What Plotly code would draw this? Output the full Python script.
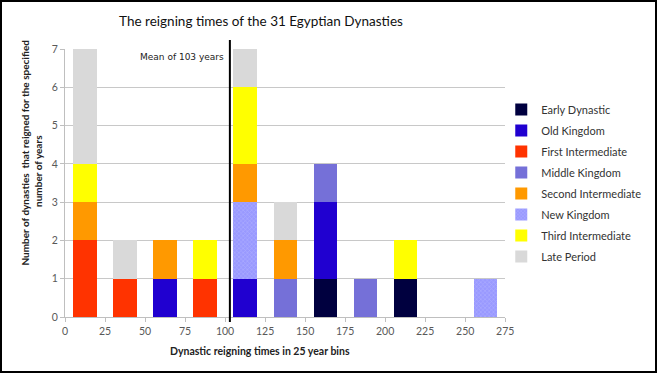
import plotly.graph_objects as go

bins = [12.5, 37.5, 62.5, 87.5, 112.5, 137.5, 162.5, 187.5, 212.5, 237.5, 262.5]

# stacking order (bottom to top)
series = [
    ("Early Dynastic",      [0, 0, 0, 0, 0, 0, 1, 0, 1, 0, 0], "#00003F", 1),
    ("Old Kingdom",         [0, 0, 1, 0, 1, 0, 2, 0, 0, 0, 0], "#2000D0", 2),
    ("First Intermediate",  [2, 1, 0, 1, 0, 0, 0, 0, 0, 0, 0], "#FF3300", 3),
    ("Middle Kingdom",      [0, 0, 0, 0, 0, 1, 1, 1, 0, 0, 0], "#7570D8", 4),
    ("New Kingdom",         [0, 0, 0, 0, 2, 0, 0, 0, 0, 0, 1], "#9999FF", 6),
    ("Second Intermediate", [1, 0, 1, 0, 1, 1, 0, 0, 0, 0, 0], "#FF9900", 5),
    ("Third Intermediate",  [1, 0, 0, 1, 2, 0, 0, 0, 1, 0, 0], "#FFFF00", 7),
    ("Late Period",         [3, 1, 0, 0, 1, 1, 0, 0, 0, 0, 0], "#D9D9D9", 8),
]

mean_years = 103
x_ticks = list(range(0, 276, 25))
y_ticks = list(range(0, 8))

W, H = 657, 373
L, R, T, B = 65, 0, 49, 56
PW = W - L - R
PH = H - T - B


def px_x(p):
    return (p - L) / PW


def px_y(p):
    return (H - B - p) / PH


fig = go.Figure()
for name, vals, col, rank in series:
    marker = dict(color=col, line=dict(width=0))
    if name == "New Kingdom":
        marker["pattern"] = dict(shape="x", fgcolor="#BDBDFF", size=3, solidity=0.4)
    fig.add_trace(go.Bar(
        x=bins, y=vals, name=name, width=14.5, marker=marker,
        legendrank=rank, legendgroup=name,
    ))

fig.add_shape(type="line", x0=mean_years, x1=mean_years, xref="x",
              y0=px_y(322), y1=px_y(40), yref="paper",
              line=dict(color="black", width=2))
fig.add_annotation(x=mean_years, xref="x", xanchor="right", xshift=-4,
                   y=6.8, yref="y", text="Mean of 103 years", showarrow=False,
                   font=dict(family="DejaVu Sans", size=9, color="#222"))

fig.add_annotation(xref="paper", yref="paper",
                   x=px_x(24), y=px_y(153), xanchor="center", yanchor="middle",
                   text="<b>Number of dynasties  that reigned for the specified</b>",
                   textangle=-90, showarrow=False,
                   font=dict(family="Lato", size=10, color="#222"))
fig.add_annotation(xref="paper", yref="paper",
                   x=px_x(37.5), y=px_y(171), xanchor="center", yanchor="middle",
                   text="<b>number of years</b>",
                   textangle=-90, showarrow=False,
                   font=dict(family="Lato", size=10, color="#222"))
fig.add_annotation(xref="paper", yref="paper",
                   x=px_x(263), y=px_y(351), xanchor="center", yanchor="middle",
                   text="<b>Dynastic reigning times in 25 year bins</b>",
                   showarrow=False,
                   font=dict(family="Lato", size=10.5, color="#222"))

fig.update_layout(
    width=W, height=H,
    margin=dict(l=L, r=R, t=T, b=B),
    paper_bgcolor="white", plot_bgcolor="white",
    barmode="stack",
    title=dict(text="The reigning times of the 31 Egyptian Dynasties",
               x=261 / W, xanchor="center", y=1 - 21 / H, yanchor="middle",
               font=dict(family="Lato", size=13.5, color="#111")),
    font=dict(family="Lato", size=10, color="#595959"),
    showlegend=True,
    legend=dict(x=px_x(508), xanchor="left", y=px_y(95), yanchor="top",
                font=dict(family="Lato", size=11, color="#333"),
                tracegroupgap=2, bgcolor="rgba(0,0,0,0)"),
    xaxis=dict(domain=[0, 447 / PW], range=[0, 275], tickvals=x_ticks,
               showgrid=False, showline=True, linecolor="#BFBFBF", linewidth=1,
               ticks="outside", ticklen=4, tickcolor="#BFBFBF",
               zeroline=False, tickfont=dict(size=10.5, color="#595959")),
    yaxis=dict(range=[0, 7], tickvals=y_ticks, showgrid=True,
               gridcolor="#C8C8C8", gridwidth=1,
               showline=True, linecolor="#BFBFBF", linewidth=1,
               ticks="outside", ticklen=4, tickcolor="#BFBFBF",
               zeroline=False, tickfont=dict(size=10.5, color="#595959")),
)

post = (
    "document.body.style.margin='0';"
    "var bd=document.createElement('div');"
    "bd.style.cssText='position:absolute;left:0;top:0;width:657px;height:373px;"
    "box-sizing:border-box;border:2px solid black;pointer-events:none;z-index:10000;';"
    "document.body.appendChild(bd);"
)

fig.write_html("out.html", post_script=post, config={"displayModeBar": False})
